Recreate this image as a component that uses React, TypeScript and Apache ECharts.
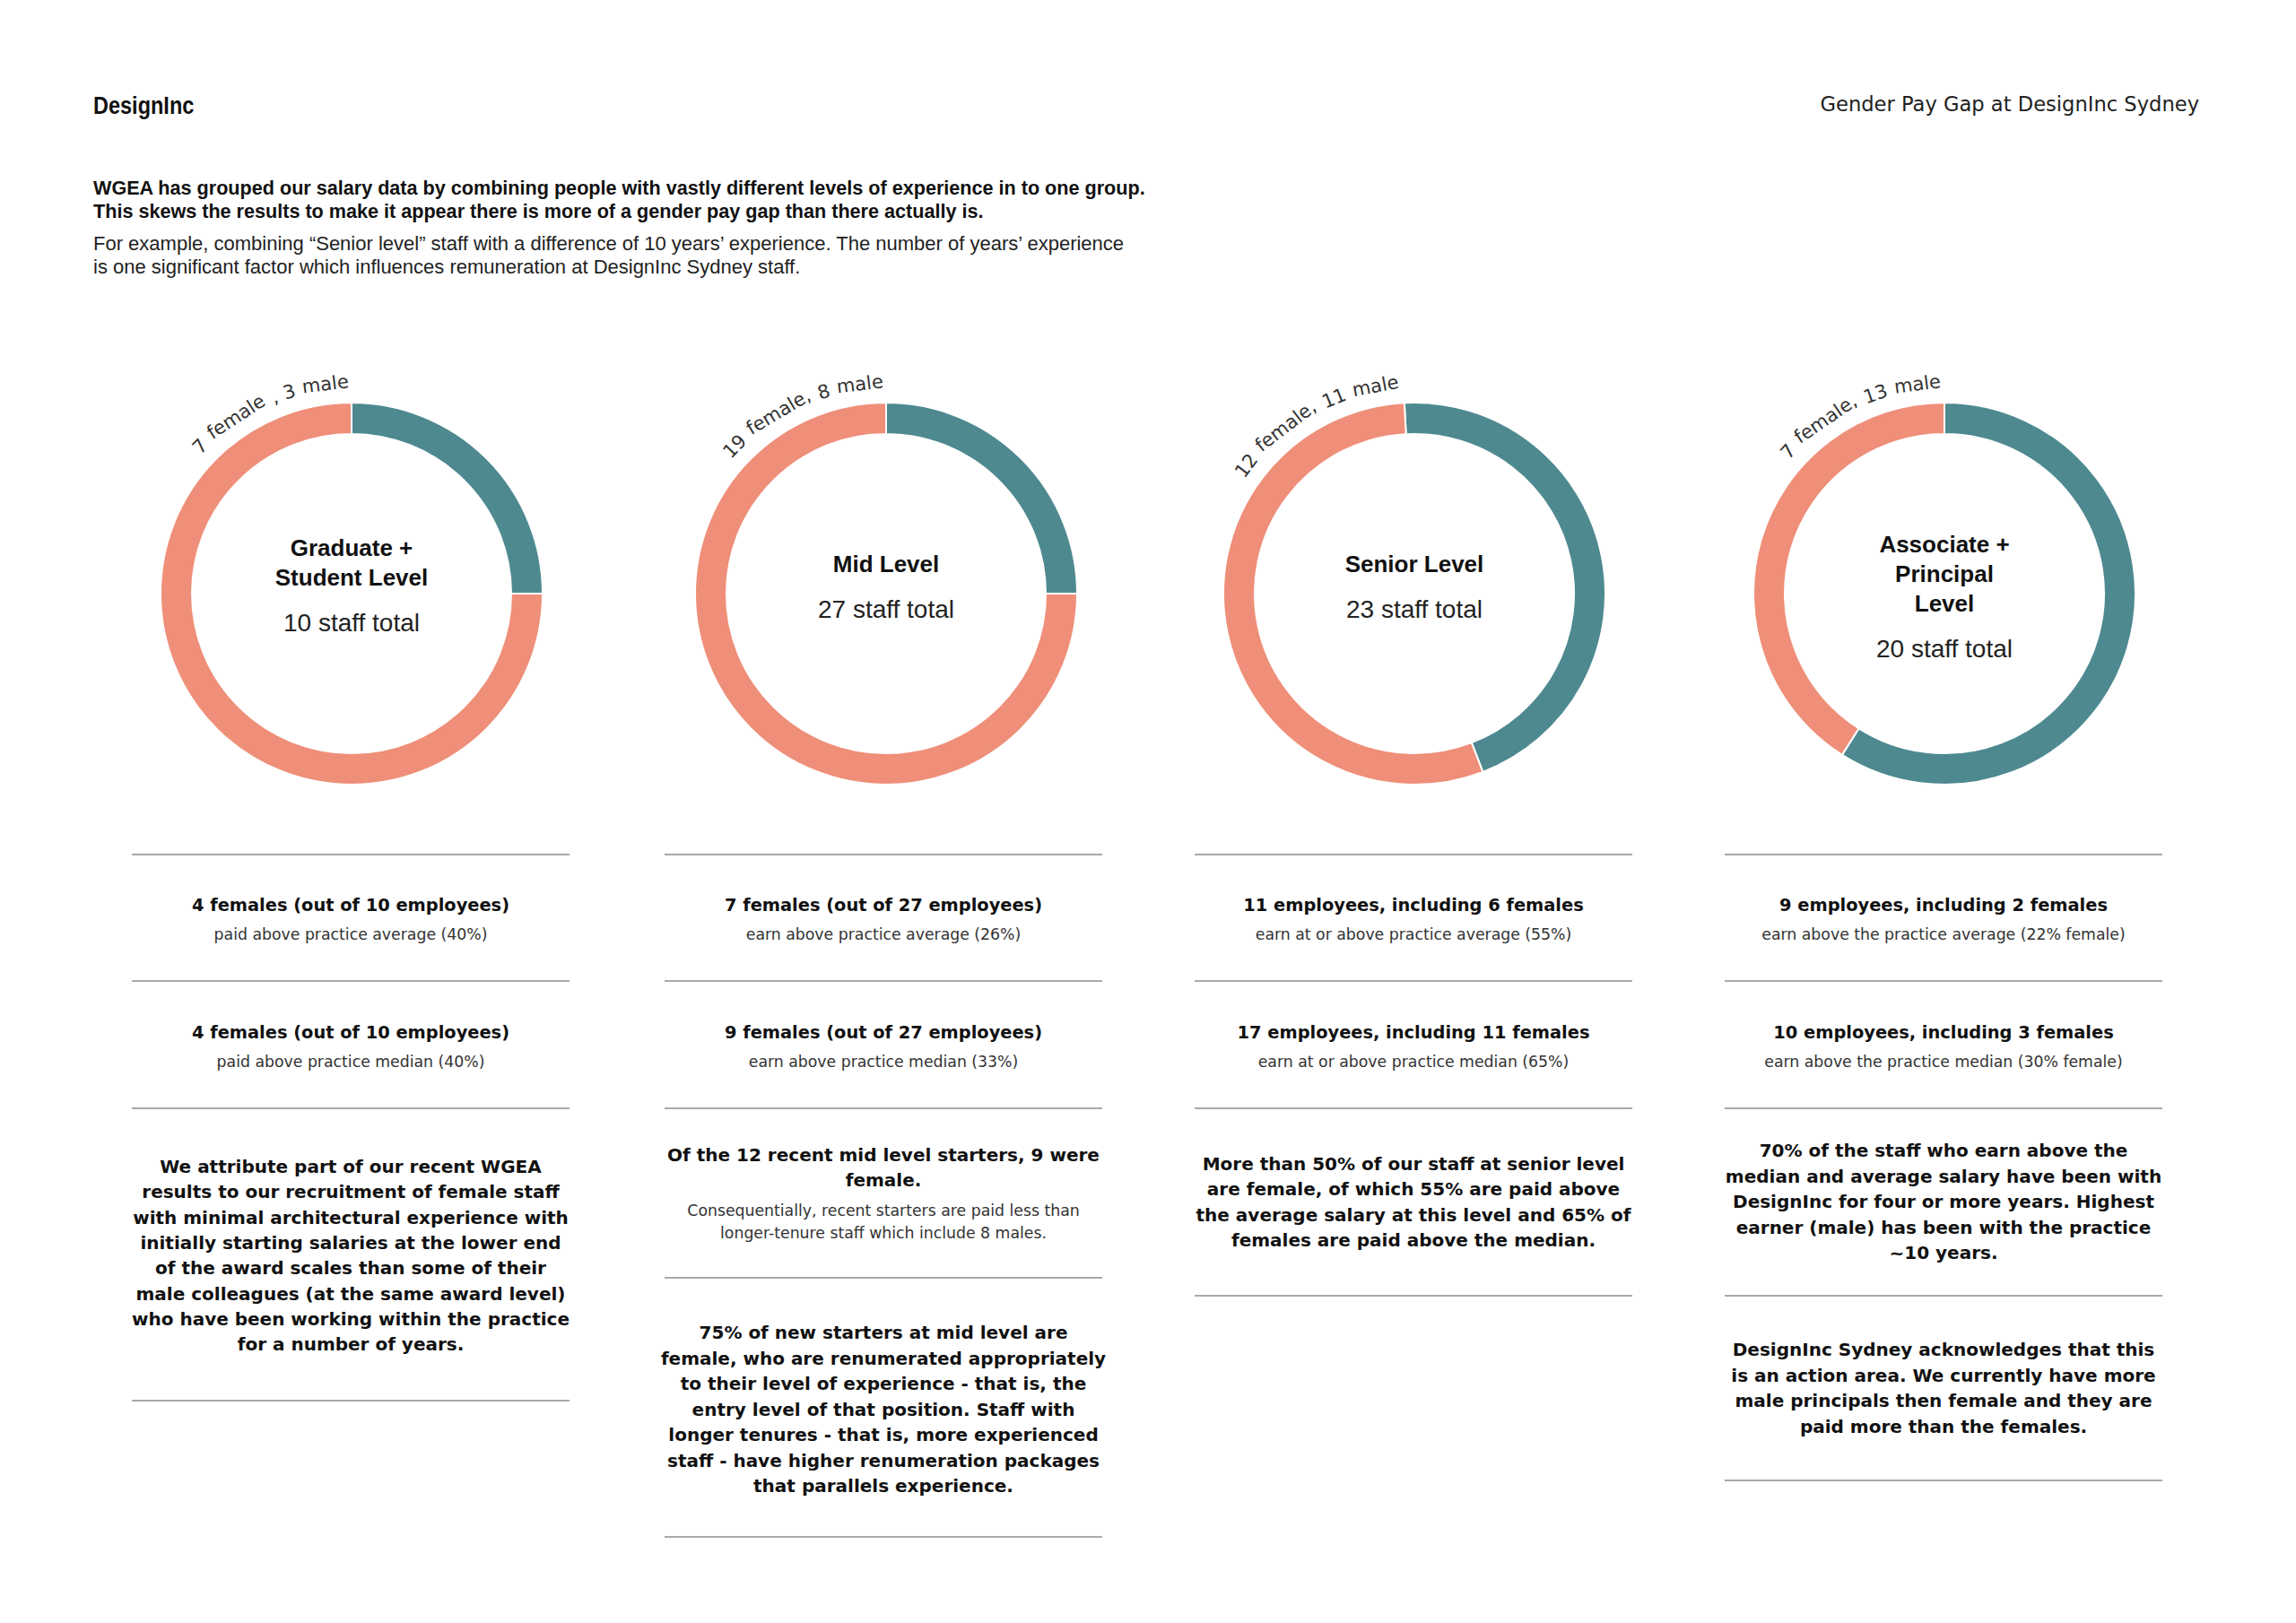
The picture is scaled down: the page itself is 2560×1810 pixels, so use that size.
import React, { useEffect, useRef } from "react";
import * as echarts from "echarts";

// ---------- data ----------
const levelTitles: string[][] = [
  ["Graduate +", "Student Level"],
  ["Mid Level"],
  ["Senior Level"],
  ["Associate +", "Principal", "Level"],
];
const staffTotals = [10, 27, 23, 20];
const femaleCounts = [7, 19, 12, 7];
const maleCounts = [3, 8, 11, 13];
const arcLabels = ["7 female , 3 male", "19 female, 8 male", "12 female, 11 male", "7 female, 13 male"];
// ring shares as drawn in the reference (percent of the ring)
const maleShareDrawn = [25, 25, 45, 59];
const femaleShareDrawn = [75, 75, 55, 41];

const statTitles: string[][] = [
  ["4 females (out of 10 employees)", "4 females (out of 10 employees)"],
  ["7 females (out of 27 employees)", "9 females (out of 27 employees)"],
  ["11 employees, including 6 females", "17 employees, including 11 females"],
  ["9 employees, including 2 females", "10 employees, including 3 females"],
];
const statSubs: string[][] = [
  ["paid above practice average (40%)", "paid above practice median (40%)"],
  ["earn above practice average (26%)", "earn above practice median (33%)"],
  ["earn at or above practice average (55%)", "earn at or above practice median (65%)"],
  ["earn above the practice average (22% female)", "earn above the practice median (30% female)"],
];

const col1Note = [
  "We attribute part of our recent WGEA",
  "results to our recruitment of female staff",
  "with minimal architectural experience with",
  "initially starting salaries at the lower end",
  "of the award scales than some of their",
  "male colleagues (at the same award level)",
  "who have been working within the practice",
  "for a number of years.",
];
const col2NoteA = ["Of the 12 recent mid level starters, 9 were", "female."];
const col2NoteASub = [
  "Consequentially, recent starters are paid less than",
  "longer-tenure staff which include 8 males.",
];
const col2NoteB = [
  "75% of new starters at mid level are",
  "female, who are renumerated appropriately",
  "to their level of experience - that is, the",
  "entry level of that position. Staff with",
  "longer tenures - that is, more experienced",
  "staff - have higher renumeration packages",
  "that parallels experience.",
];
const col3Note = [
  "More than 50% of our staff at senior level",
  "are female, of which 55% are paid above",
  "the average salary at this level and 65% of",
  "females are paid above the median.",
];
const col4NoteA = [
  "70% of the staff who earn above the",
  "median and average salary have been with",
  "DesignInc for four or more years. Highest",
  "earner (male) has been with the practice",
  "~10 years.",
];
const col4NoteB = [
  "DesignInc Sydney acknowledges that this",
  "is an action area. We currently have more",
  "male principals then female and they are",
  "paid more than the females.",
];

const introBold = [
  "WGEA has grouped our salary data by combining people with vastly different levels of experience in to one group.",
  "This skews the results to make it appear there is more of a gender pay gap than there actually is.",
];
const introRegular = [
  "For example, combining \u201CSenior level\u201D staff with a difference of 10 years\u2019 experience. The number of years\u2019 experience",
  "is one significant factor which influences remuneration at DesignInc Sydney staff.",
];

// ---------- layout / style ----------
const W = 2560;
const H = 1810;
const TEAL = "#4e8990";
const SALMON = "#ef8f79";
const ringX = [392, 988, 1577, 2168];
const colX = [391, 985, 1576, 2167];
const ringY = 662;
const startAngles = [90, 90, 93, 90];
const arcEndDeg = [-0.5, -0.5, -4, -0.7];
const RULE_HALF = 244;

const BOLD_FONT = 'bold 20px "DejaVu Sans"';
const STAT_FONT = 'bold 19.4px "DejaVu Sans"';
const SUB_FONT = '17.3px "DejaVu Sans"';
const ARC_FONT = '21px "DejaVu Sans"';

function txt(x: number, y: number, text: string, font: string, fill = "#111", align = "center", extra: any = {}) {
  return {
    type: "text",
    x,
    y,
    silent: true,
    ...extra,
    style: { text, font, fill, align, verticalAlign: "middle" },
  };
}

function rule(cx: number, y: number) {
  return {
    type: "line",
    silent: true,
    shape: { x1: cx - RULE_HALF, y1: y, x2: cx + RULE_HALF, y2: y },
    style: { stroke: "#8c8c8c", lineWidth: 1.6 },
  };
}

function lines(cx: number, y0: number, lh: number, arr: string[], font: string, fill = "#111") {
  return arr.map((t, i) => txt(cx, y0 + i * lh, t, font, fill));
}

function curvedWords(text: string, cx: number, cy: number, r: number, endDeg: number, font: string) {
  const ctx = document.createElement("canvas").getContext("2d")!;
  ctx.font = font;
  const total = ctx.measureText(text).width;
  const endA = (endDeg * Math.PI) / 180;
  const startA = endA - total / r;
  const out: any[] = [];
  const re = /\S+/g;
  let m: RegExpExecArray | null;
  while ((m = re.exec(text))) {
    const off = ctx.measureText(text.slice(0, m.index)).width;
    const w = ctx.measureText(m[0]).width;
    const a = startA + (off + w / 2) / r;
    out.push({
      type: "text",
      silent: true,
      x: cx + r * Math.sin(a),
      y: cy - r * Math.cos(a),
      rotation: -a,
      style: { text: m[0], font, fill: "#333", align: "center", verticalAlign: "bottom" },
    });
  }
  return out;
}

export default function App() {
  const ref = useRef<HTMLDivElement>(null);
  useEffect(() => {
    if (!ref.current) return;
    const chart = echarts.init(ref.current, undefined, { renderer: "svg", width: W, height: H });

    const graphics: any[] = [];
    // header
    graphics.push(
      txt(104, 117, "DesignInc", 'bold 28px "Liberation Sans"', "#111", "left", { scaleX: 0.84, originX: 0, originY: 0 })
    );
    graphics.push(txt(2452, 116, "Gender Pay Gap at DesignInc Sydney", '22.6px "DejaVu Sans"', "#222", "right"));
    introBold.forEach((t, i) => graphics.push(txt(104, 209 + i * 26, t, 'bold 21.6px "Liberation Sans"', "#111", "left")));
    introRegular.forEach((t, i) => graphics.push(txt(104, 271 + i * 26, t, '22px "Liberation Sans"', "#222", "left")));

    // ring labels
    levelTitles.forEach((title, i) => {
      const n = title.length;
      const lh = 33;
      const subY = [694, 679, 679, 723][i];
      const y0 = subY - 50 - (n - 1) * lh;
      title.forEach((t, k) => graphics.push(txt(ringX[i], y0 + k * lh, t, 'bold 26px "Liberation Sans"', "#111")));
      graphics.push(txt(ringX[i], subY, `${staffTotals[i]} staff total`, '28px "Liberation Sans"', "#222"));
      graphics.push(...curvedWords(arcLabels[i], ringX[i], ringY, 225, arcEndDeg[i], ARC_FONT));
    });

    // stats + rules
    const rulesY: number[][] = [
      [953, 1094, 1236, 1562],
      [953, 1094, 1236, 1425, 1714],
      [953, 1094, 1236, 1445],
      [953, 1094, 1236, 1445, 1651],
    ];
    colX.forEach((cx, i) => {
      rulesY[i].forEach((y) => graphics.push(rule(cx, y)));
      statTitles[i].forEach((t, k) => {
        graphics.push(txt(cx, 1009 + k * 142, t, STAT_FONT));
        graphics.push(txt(cx, 1042 + k * 142, statSubs[i][k], SUB_FONT, "#333"));
      });
    });
    graphics.push(...lines(colX[0], 1301, 28.3, col1Note, BOLD_FONT));
    graphics.push(...lines(colX[1], 1288, 28.3, col2NoteA, BOLD_FONT));
    graphics.push(...lines(colX[1], 1350, 25, col2NoteASub, SUB_FONT, "#333"));
    graphics.push(...lines(colX[1], 1486, 28.5, col2NoteB, BOLD_FONT));
    graphics.push(...lines(colX[2], 1298, 28.3, col3Note, BOLD_FONT));
    graphics.push(...lines(colX[3], 1283, 28.6, col4NoteA, BOLD_FONT));
    graphics.push(...lines(colX[3], 1505, 28.5, col4NoteB, BOLD_FONT));

    chart.setOption({
      animation: false,
      backgroundColor: "#ffffff",
      series: ringX.map((cx, i) => ({
        type: "pie",
        name: levelTitles[i].join(" "),
        center: [cx, ringY],
        radius: [178, 213],
        startAngle: startAngles[i],
        clockwise: true,
        silent: true,
        label: { show: false },
        labelLine: { show: false },
        itemStyle: { borderColor: "#ffffff", borderWidth: 2 },
        data: [
          { name: `${maleCounts[i]} male`, value: maleShareDrawn[i], itemStyle: { color: TEAL } },
          { name: `${femaleCounts[i]} female`, value: femaleShareDrawn[i], itemStyle: { color: SALMON } },
        ],
      })),
      graphic: { elements: graphics },
    });
    return () => chart.dispose();
  }, []);
  return (
    <div
      ref={ref}
      style={{ position: "absolute", left: 0, top: 0, width: W, height: H, background: "#fff" }}
    />
  );
}
